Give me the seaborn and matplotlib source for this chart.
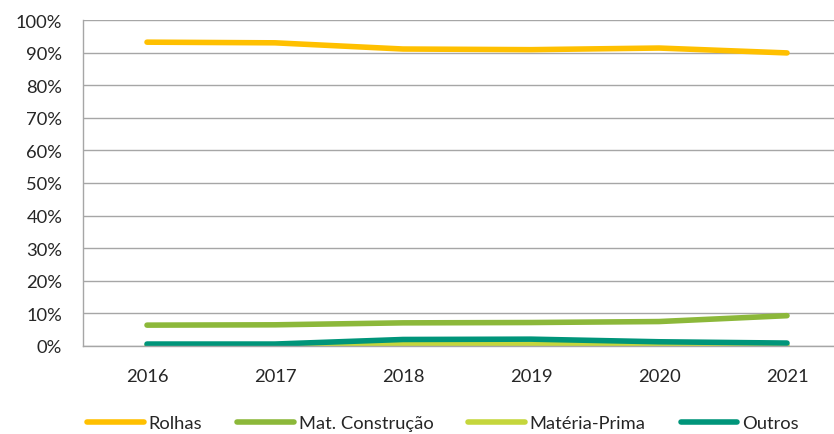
import pandas as pd
import numpy as np
import matplotlib
matplotlib.use("Agg")
import matplotlib.pyplot as plt
import seaborn as sns
from matplotlib.ticker import PercentFormatter, FixedLocator

# dados (quota por segmento, %)
anos = ["2016", "2017", "2018", "2019", "2020", "2021"]
rolhas = [93.2, 93.0, 91.1, 90.9, 91.4, 89.9]
mat_construcao = [6.4, 6.5, 7.1, 7.2, 7.5, 9.3]
materia_prima = [0.1, 0.1, 0.4, 0.5, 0.3, 0.1]
outros = [0.6, 0.6, 2.0, 2.1, 1.3, 0.9]

series = {
  "Rolhas": rolhas,
  "Mat. Construção": mat_construcao,
  "Matéria-Prima": materia_prima,
  "Outros": outros,
}
cores = {
  "Rolhas": "#FFC000",
  "Mat. Construção": "#8CB83A",
  "Matéria-Prima": "#C5D63C",
  "Outros": "#00957A",
}

df = pd.DataFrame([
  {"ano": a, "valor": v, "segmento": s}
  for s, vals in series.items() for a, v in zip(anos, vals)
])

sns.set_style("white")
plt.rcParams["font.family"] = ["Lato", "DejaVu Sans"]
fs = 13.2

fig = plt.figure(figsize=(8.34, 4.35), dpi=100)
ax = fig.add_axes([83 / 834, 1 - 347 / 435, (834 - 83) / 834, (347 - 21) / 435])

sns.lineplot(data=df, x="ano", y="valor", hue="segmento", palette=cores,
             hue_order=list(series.keys()), linewidth=4, sort=False, ax=ax,
             solid_capstyle="round", legend=True)

ax.set_ylim(0, 100)
ax.set_xlim(-0.5, 5 + (834 - 787) / 128)
ax.yaxis.set_major_locator(FixedLocator(np.arange(0, 101, 10)))
ax.yaxis.set_major_formatter(PercentFormatter(decimals=0))
ax.grid(axis="y", color="#A6A6A6", linewidth=1)
ax.set_axisbelow(True)

for s in ["top", "right"]:
  ax.spines[s].set_visible(False)
for s in ["left", "bottom"]:
  ax.spines[s].set_color("#A6A6A6")
  ax.spines[s].set_linewidth(1)

ax.tick_params(axis="y", length=5, color="#A6A6A6", pad=10, labelsize=fs)
ax.tick_params(axis="x", which="major", length=0, pad=16, labelsize=fs)
ax.set_xticks(np.arange(-0.5, 5.5, 1), minor=True)
ax.tick_params(axis="x", which="minor", length=5, color="#A6A6A6")
ax.set_xlabel("")
ax.set_ylabel("")

handles, labels = ax.get_legend_handles_labels()
ax.legend_.remove()
fig.legend(handles, labels, loc="center", bbox_to_anchor=(443 / 834, 1 - 424 / 435),
           ncol=4, frameon=False, handlelength=3.1, handletextpad=0.25,
           columnspacing=1.9, fontsize=fs)

fig.savefig("out.png", dpi=100)
